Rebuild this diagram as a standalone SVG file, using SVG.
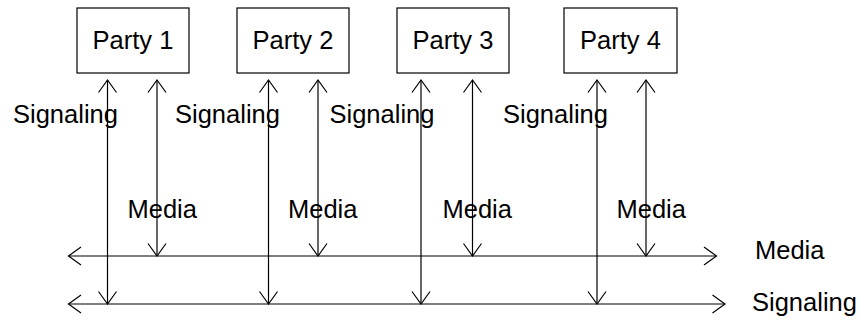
<svg xmlns="http://www.w3.org/2000/svg" width="862" height="322" viewBox="0 0 862 322">
<style>
.box{fill:#fff;stroke:#000;stroke-width:1.2}
.t{font-family:"Liberation Sans",Arial,Helvetica,sans-serif;font-size:25.5px;fill:#000}
.c{text-anchor:middle}
.ln{stroke:#000;stroke-width:1.2;fill:none;marker-start:url(#a);marker-end:url(#a)}
</style>
<defs>
<marker id="a" markerUnits="userSpaceOnUse" orient="auto-start-reverse" overflow="visible" markerWidth="1" markerHeight="1" refX="0" refY="0">
<path d="M-12.5,-9 L0,0 L-12.5,9" fill="none" stroke="#000" stroke-width="1.2"/>
</marker>
</defs>
<rect width="862" height="322" fill="#fff"/>
<g id="party1"><rect class="box" x="77" y="8" width="112" height="65"/><text class="t c" x="133" y="48.5">Party 1</text></g>
<g id="party2"><rect class="box" x="237" y="8" width="112" height="65"/><text class="t c" x="293" y="48.5">Party 2</text></g>
<g id="party3"><rect class="box" x="397" y="8" width="112" height="65"/><text class="t c" x="453" y="48.5">Party 3</text></g>
<g id="party4"><rect class="box" x="564" y="8" width="113" height="65"/><text class="t c" x="620.5" y="48.5">Party 4</text></g>
<g id="connectors">
<line class="ln" x1="107.5" y1="80" x2="107.5" y2="304"/>
<line class="ln" x1="157" y1="80" x2="157" y2="256"/>
<line class="ln" x1="268.5" y1="80" x2="268.5" y2="304"/>
<line class="ln" x1="318" y1="80" x2="318" y2="256"/>
<line class="ln" x1="421" y1="80" x2="421" y2="304"/>
<line class="ln" x1="472.5" y1="80" x2="472.5" y2="256"/>
<line class="ln" x1="597" y1="80" x2="597" y2="304"/>
<line class="ln" x1="646" y1="80" x2="646" y2="256"/>
<line class="ln" x1="68.5" y1="256" x2="716.5" y2="256"/>
<line class="ln" x1="68.5" y1="304" x2="725" y2="304"/>
</g>
<g id="labels">
<text class="t" x="13" y="123">Signaling</text>
<text class="t" x="175" y="123">Signaling</text>
<text class="t" x="329.5" y="123">Signaling</text>
<text class="t" x="503" y="123">Signaling</text>
<text class="t" x="127.5" y="218">Media</text>
<text class="t" x="288" y="218">Media</text>
<text class="t" x="442.5" y="218">Media</text>
<text class="t" x="616.5" y="218">Media</text>
<text class="t" x="755" y="259">Media</text>
<text class="t" x="752" y="311">Signaling</text>
</g>
</svg>
